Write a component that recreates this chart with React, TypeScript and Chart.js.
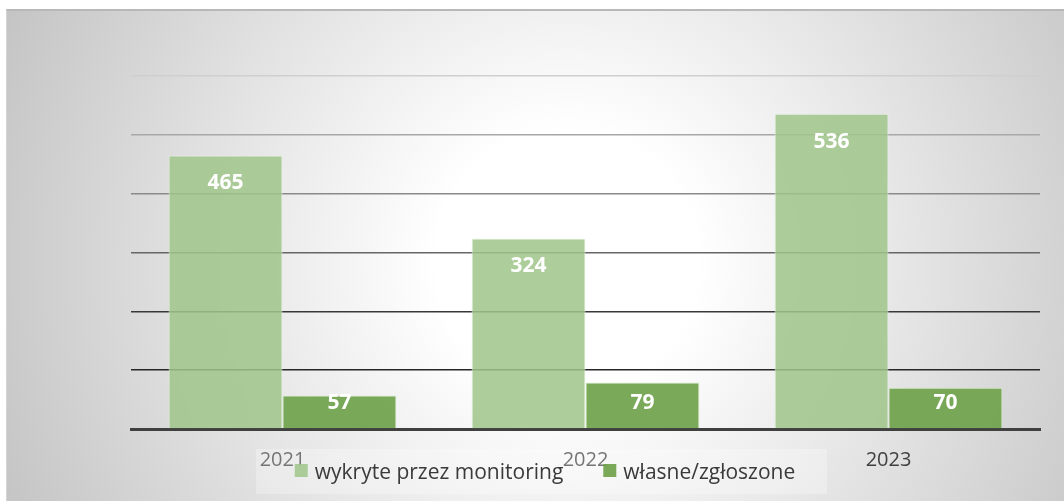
import React, { useEffect, useRef } from "react";
import { Chart, registerables } from "chart.js";

Chart.register(...registerables);

const categories = ["2021", "2022", "2023"];
const seriesNames = ["wykryte przez monitoring", "własne/zgłoszone"];
const monitoring = [465, 324, 536];
const own = [57, 79, 70];
const yTicks = [0, 100, 200, 300, 400, 500, 600];

const FONT = "'Open Sans', 'Noto Sans', sans-serif";
const LIGHT = "rgba(160,198,138,0.86)";
const DARK = "rgba(112,163,78,0.93)";
const LEGEND_LIGHT = "rgba(160,198,138,0.86)";
const LEGEND_DARK = "rgba(112,163,78,0.93)";

const gridColors: Record<number, string> = {
  0: "rgba(0,0,0,0)",
  100: "#262626",
  200: "#383838",
  300: "#666666",
  400: "#8a8a8a",
  500: "#a8a8a8",
  600: "#cfcfcf",
};

const labelPlugin = {
  id: "barLabels",
  afterDatasetsDraw(chart: any) {
    const { ctx } = chart;
    ctx.save();
    ctx.font = `bold 21px ${FONT}`;
    ctx.fillStyle = "#ffffff";
    ctx.textAlign = "center";
    ctx.textBaseline = "middle";
    chart.data.datasets.forEach((ds: any, di: number) => {
      const meta = chart.getDatasetMeta(di);
      meta.data.forEach((bar: any, i: number) => {
        const y = Math.min(bar.y + 28, bar.base - 25);
        ctx.fillText(String(ds.data[i]), bar.x, y);
      });
    });
    ctx.restore();
  },
};

const legendPlugin = {
  id: "overlayLegend",
  afterDraw(chart: any) {
    const { ctx } = chart;
    ctx.save();
    ctx.fillStyle = "rgba(255,255,255,0.28)";
    ctx.fillRect(249, 438, 571, 45);
    ctx.font = `21px ${FONT}`;
    const box = 13;
    const gapBox = 7;
    const gapItem = 40;
    const items = chart.data.datasets.map((ds: any) => ({
      label: ds.label,
      color: ds.legendColor,
      w: ctx.measureText(ds.label).width,
    }));
    const total =
      items.reduce((s: number, it: any) => s + box + gapBox + it.w, 0) +
      gapItem * (items.length - 1);
    let x = 538 - total / 2;
    ctx.textBaseline = "alphabetic";
    ctx.textAlign = "left";
    items.forEach((it: any) => {
      ctx.fillStyle = it.color;
      ctx.fillRect(x, 453, box, box);
      x += box + gapBox;
      ctx.fillStyle = "#3a3a3a";
      ctx.fillText(it.label, x, 468);
      x += it.w + gapItem;
    });
    ctx.restore();
  },
};

export default function App() {
  const canvasRef = useRef<HTMLCanvasElement | null>(null);

  useEffect(() => {
    if (!canvasRef.current) return;
    Chart.defaults.font.family = FONT;
    const chart = new Chart(canvasRef.current, {
      type: "bar",
      data: {
        labels: categories,
        datasets: [
          {
            label: seriesNames[0],
            data: monitoring,
            backgroundColor: LIGHT,
            borderColor: "rgba(230,242,222,0.9)",
            borderWidth: 1,
            legendColor: LEGEND_LIGHT,
          } as any,
          {
            label: seriesNames[1],
            data: own,
            backgroundColor: DARK,
            borderColor: "rgba(215,235,200,0.9)",
            borderWidth: 1,
            legendColor: LEGEND_DARK,
          } as any,
        ],
      },
      options: {
        animation: false,
        responsive: true,
        maintainAspectRatio: false,
        layout: { padding: { left: 124, right: 24, top: 65, bottom: 0 } },
        datasets: {
          bar: { categoryPercentage: 0.752, barPercentage: 1 },
        },
        plugins: {
          legend: { display: false },
          tooltip: { enabled: false },
        },
        scales: {
          x: {
            grid: { display: false, drawTicks: false },
            border: { display: true, color: "#404040", width: 3 },
            ticks: {
              color: "#404040",
              font: { size: 20, family: FONT },
              padding: 19,
            },
            afterFit: (s: any) => {
              s.height = 72;
            },
          },
          y: {
            min: yTicks[0],
            max: yTicks[yTicks.length - 1],
            afterBuildTicks: (s: any) => {
              s.ticks = yTicks.map((v) => ({ value: v }));
            },
            ticks: { display: false },
            border: { display: false },
            grid: {
              drawTicks: false,
              lineWidth: 1.5,
              color: (c: any) => gridColors[c.tick?.value] ?? "#404040",
            },
            afterFit: (s: any) => {
              s.width = 0;
            },
          },
        },
      },
      plugins: [labelPlugin, legendPlugin],
    });
    return () => chart.destroy();
  }, []);

  return (
    <div
      style={{
        position: "fixed",
        left: 0,
        top: 0,
        width: 1064,
        height: 501,
        overflow: "hidden",
        background: "#ffffff",
      }}
    >
      <div
        style={{
          position: "absolute",
          left: 6,
          top: 9,
          width: 1058,
          height: 492,
          boxSizing: "border-box",
          borderTop: "2px solid #b8b8b8",
          borderLeft: "1px solid #d4d4d4",
          background:
            "radial-gradient(circle 650px at 560px 250px, #ffffff 0%, #ffffff 20%, #c0c0c0 100%)",
        }}
      >
        <canvas ref={canvasRef} />
      </div>
    </div>
  );
}
